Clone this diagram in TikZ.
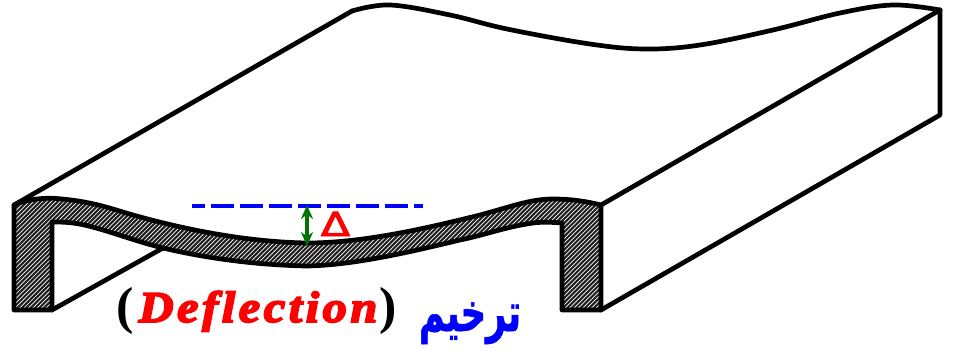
\documentclass[tikz,border=0pt]{standalone}
\usepackage{fontspec}
\TeXXeTstate=1
\newfontfamily\arabicfont[Script=Arabic,FakeStretch=0.65,FakeBold=1]{DejaVu Sans Bold}
\newfontfamily\deltafont[FakeBold=3,FakeStretch=1.3]{DejaVu Sans}
\newfontfamily\parenfont{Liberation Serif}
\newfontfamily\deflfont[LetterSpace=8,FakeStretch=1.1,FakeBold=4]{Liberation Serif}
\usetikzlibrary{arrows.meta}
\tikzset{
  edge/.style={line width=4.7pt,line join=round,line cap=round,black},
  label/.style={inner sep=0pt,anchor=base},
}
\begin{document}
\begin{tikzpicture}[x=1pt,y=-1pt]
\useasboundingbox (0,0) rectangle (954,351);
\def\secpath{(14,205) .. controls (28,199) and (45,197) .. (62,199)
  .. controls (95,202) and (115,210) .. (133,215)
  .. controls (190,231) and (250,242) .. (307,243)
  .. controls (360,243) and (420,230) .. (480,215)
  .. controls (510,207) and (530,199) .. (553,199)
  .. controls (570,199) and (585,201) .. (601,205)
  -- (601,310) -- (562,310) -- (562,223)
  .. controls (550,222) and (540,222) .. (533,223)
  .. controls (505,227) and (485,235) .. (460,240)
  .. controls (410,252) and (355,265) .. (307,266)
  .. controls (255,265) and (205,258) .. (163,248)
  .. controls (130,240) and (97,226) .. (73,223)
  .. controls (65,222) and (58,222) .. (52,222)
  -- (52,310) -- (14,310) -- cycle}
% slab outline
\draw[edge] (14,205) -- (352,11);
\draw[edge] plot[smooth,tension=0.6] coordinates {(352,11) (390,5) (450,15) (507,29) (590,44) (645,49) (700,45) (773,30) (840,13) (893,5) (940,10)};
\draw[edge] (940,10) -- (940,115) -- (601,310);
\draw[edge] (601,205) -- (940,10);
\draw[edge] (52,310) -- (163,248);
% hatched section
\fill[black!88] \secpath;
\begin{scope}
  \clip \secpath;
  \foreach \k in {-120,-115.6,...,610}
    \draw[white,line width=0.7pt] (\k,320) -- ++(130,-130);
\end{scope}
\draw[edge] \secpath;
% deflection marks
\draw[blue,line width=3.8pt,dash pattern=on 13pt off 6pt on 23pt off 6pt on 23pt off 6pt on 23pt off 6pt on 23pt off 6pt on 23pt off 6pt on 23pt off 6pt on 23pt off 6pt on 23pt off 6pt]
  (192,206) coordinate (da) -- (423,206) coordinate (db);
\coordinate (ga) at (307,205);
\coordinate (gb) at (307,246);
\draw[{Stealth[length=14pt,width=12pt]}-{Stealth[length=14pt,width=12pt]},line width=3.8pt,black!50!green!90!black] (ga) -- (gb);
% labels
\node[label,text=red,font=\deltafont\fontsize{33}{33}\selectfont] (delta) at (335.5,236) {Δ};
\node[label,text=black,font=\parenfont\bfseries\fontsize{52}{52}\selectfont] (lp) at (125.5,323) {(};
\node[label,text=red,font=\deflfont\bfseries\itshape\fontsize{44}{44}\selectfont] (defl) at (258,322) {Deflection};
\node[label,text=black,font=\parenfont\bfseries\fontsize{52}{52}\selectfont] (rp) at (388,323) {)};
\node[label,text=blue,font=\arabicfont\fontsize{54}{54}\selectfont] (ar) at (470,331) {\beginR ترخيم\endR};
\end{tikzpicture}
\end{document}
